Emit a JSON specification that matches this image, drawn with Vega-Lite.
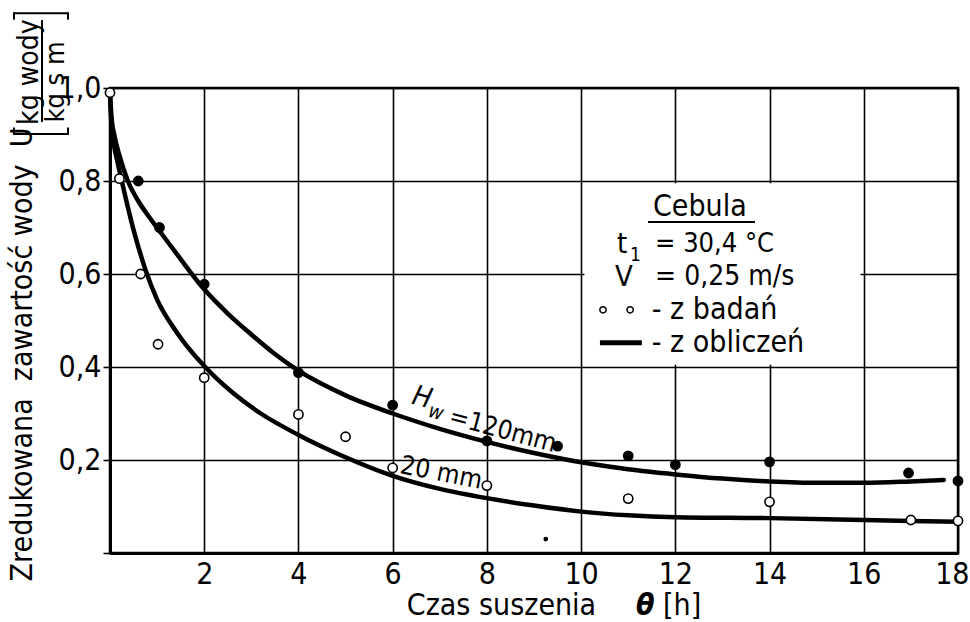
{
  "$schema": "https://vega.github.io/schema/vega-lite/v6.json",
  "width": 848,
  "height": 465,
  "autosize": {"type": "none"},
  "padding": {"left": 110, "top": 88, "right": 12, "bottom": 69},
  "background": "white",
  "datasets": {
    "obliczenia": [
      {"seria": "120 mm", "h": 0, "u": 0.99},
      {"seria": "120 mm", "h": 0.03, "u": 0.94},
      {"seria": "120 mm", "h": 0.1, "u": 0.895},
      {"seria": "120 mm", "h": 0.2, "u": 0.855},
      {"seria": "120 mm", "h": 0.38, "u": 0.8},
      {"seria": "120 mm", "h": 0.6, "u": 0.757},
      {"seria": "120 mm", "h": 0.85, "u": 0.72},
      {"seria": "120 mm", "h": 1.1, "u": 0.686},
      {"seria": "120 mm", "h": 1.44, "u": 0.64},
      {"seria": "120 mm", "h": 2.0, "u": 0.567},
      {"seria": "120 mm", "h": 2.5, "u": 0.515},
      {"seria": "120 mm", "h": 3.0, "u": 0.47},
      {"seria": "120 mm", "h": 3.5, "u": 0.428},
      {"seria": "120 mm", "h": 4.0, "u": 0.392},
      {"seria": "120 mm", "h": 5.0, "u": 0.339},
      {"seria": "120 mm", "h": 6.0, "u": 0.3},
      {"seria": "120 mm", "h": 7.0, "u": 0.267},
      {"seria": "120 mm", "h": 8.0, "u": 0.239},
      {"seria": "120 mm", "h": 9.0, "u": 0.215},
      {"seria": "120 mm", "h": 10.0, "u": 0.195},
      {"seria": "120 mm", "h": 11.0, "u": 0.18},
      {"seria": "120 mm", "h": 12.0, "u": 0.169},
      {"seria": "120 mm", "h": 13.0, "u": 0.16},
      {"seria": "120 mm", "h": 14.0, "u": 0.154},
      {"seria": "120 mm", "h": 15.0, "u": 0.151},
      {"seria": "120 mm", "h": 16.0, "u": 0.151},
      {"seria": "120 mm", "h": 17.0, "u": 0.154},
      {"seria": "120 mm", "h": 17.7, "u": 0.157},
      {"seria": "20 mm", "h": 0, "u": 0.99},
      {"seria": "20 mm", "h": 0.03, "u": 0.92},
      {"seria": "20 mm", "h": 0.08, "u": 0.88},
      {"seria": "20 mm", "h": 0.16, "u": 0.84},
      {"seria": "20 mm", "h": 0.25, "u": 0.8},
      {"seria": "20 mm", "h": 0.5, "u": 0.695},
      {"seria": "20 mm", "h": 0.75, "u": 0.61},
      {"seria": "20 mm", "h": 1.0, "u": 0.545},
      {"seria": "20 mm", "h": 1.4, "u": 0.477},
      {"seria": "20 mm", "h": 2.0, "u": 0.402},
      {"seria": "20 mm", "h": 2.6, "u": 0.345},
      {"seria": "20 mm", "h": 3.2, "u": 0.3},
      {"seria": "20 mm", "h": 4.0, "u": 0.254},
      {"seria": "20 mm", "h": 5.0, "u": 0.206},
      {"seria": "20 mm", "h": 6.0, "u": 0.166},
      {"seria": "20 mm", "h": 7.0, "u": 0.138},
      {"seria": "20 mm", "h": 8.0, "u": 0.118},
      {"seria": "20 mm", "h": 9.0, "u": 0.102},
      {"seria": "20 mm", "h": 10.0, "u": 0.089},
      {"seria": "20 mm", "h": 11.0, "u": 0.081},
      {"seria": "20 mm", "h": 12.0, "u": 0.077},
      {"seria": "20 mm", "h": 14.0, "u": 0.075},
      {"seria": "20 mm", "h": 16.0, "u": 0.071},
      {"seria": "20 mm", "h": 18.0, "u": 0.067}
    ],
    "badania": [
      {"seria": "120 mm", "h": 0.6, "u": 0.8},
      {"seria": "120 mm", "h": 1.05, "u": 0.7},
      {"seria": "120 mm", "h": 2.0, "u": 0.578},
      {"seria": "120 mm", "h": 4.0, "u": 0.388},
      {"seria": "120 mm", "h": 6.0, "u": 0.318},
      {"seria": "120 mm", "h": 8.0, "u": 0.241},
      {"seria": "120 mm", "h": 9.5, "u": 0.23},
      {"seria": "120 mm", "h": 11.0, "u": 0.209},
      {"seria": "120 mm", "h": 12.0, "u": 0.19},
      {"seria": "120 mm", "h": 14.0, "u": 0.196},
      {"seria": "120 mm", "h": 16.95, "u": 0.172},
      {"seria": "120 mm", "h": 18.0, "u": 0.155},
      {"seria": "20 mm", "h": 0.0, "u": 0.99},
      {"seria": "20 mm", "h": 0.2, "u": 0.805},
      {"seria": "20 mm", "h": 0.65, "u": 0.6},
      {"seria": "20 mm", "h": 1.02, "u": 0.449},
      {"seria": "20 mm", "h": 2.0, "u": 0.377},
      {"seria": "20 mm", "h": 4.0, "u": 0.298},
      {"seria": "20 mm", "h": 5.0, "u": 0.25},
      {"seria": "20 mm", "h": 6.0, "u": 0.183},
      {"seria": "20 mm", "h": 8.0, "u": 0.145},
      {"seria": "20 mm", "h": 11.0, "u": 0.117},
      {"seria": "20 mm", "h": 14.0, "u": 0.11},
      {"seria": "20 mm", "h": 17.0, "u": 0.071},
      {"seria": "20 mm", "h": 18.0, "u": 0.069}
    ],
    "kropka": [
      {"h": 9.25, "u": 0.03}
    ]
  },
  "layer": [
    {
      "data": {"name": "obliczenia"},
      "mark": {"type": "line", "stroke": "black", "strokeWidth": 4.5, "interpolate": "monotone", "strokeCap": "round"},
      "encoding": {
        "x": {
          "field": "h", "type": "quantitative",
          "scale": {"domain": [0, 18], "nice": false, "zero": false},
          "axis": {
            "values": [0, 2, 4, 6, 8, 10, 12, 14, 16, 18],
            "grid": true, "tickSize": 0, "labelPadding": 6,
            "labelExpr": "datum.value == 0 ? '' : datum.label",
            "labelAlign": {"condition": {"test": "datum.value == 18", "value": "right"}, "value": "center"},
            "labelOffset": {"condition": {"test": "datum.value == 18", "value": 11}, "value": 0},
            "labelFlush": false, "labelOverlap": false,
            "title": null
          }
        },
        "y": {
          "field": "u", "type": "quantitative",
          "scale": {"domain": [0, 1], "nice": false, "zero": false},
          "axis": {
            "values": [0, 0.2, 0.4, 0.6, 0.8, 1.0],
            "grid": true, "tickSize": 7, "labelPadding": 2,
            "labelExpr": "datum.value == 0 ? '' : replace(format(datum.value, '.1f'), '.', ',')",
            "labelFlush": false, "labelOverlap": false,
            "title": "Zredukowana\u00a0\u00a0zawartość wody\u00a0\u00a0U",
            "titleX": -88, "titleY": 266, "titleAngle": 270,
            "titleAlign": "center", "titleBaseline": "middle"
          }
        },
        "detail": {"field": "seria"}
      }
    },
    {
      "data": {"values": [{}]},
      "mark": {"type": "rect", "fill": "white", "stroke": null},
      "encoding": {
        "x": {"datum": 10.07}, "x2": {"datum": 15.93},
        "y": {"datum": 0.405}, "y2": {"datum": 0.795}
      }
    },
    {
      "data": {"name": "badania"},
      "mark": {"type": "point", "shape": "circle", "size": 85, "stroke": "black", "strokeWidth": 1.6, "opacity": 1},
      "encoding": {
        "x": {"field": "h", "type": "quantitative"},
        "y": {"field": "u", "type": "quantitative"},
        "fill": {
          "field": "seria", "type": "nominal",
          "scale": {"domain": ["120 mm", "20 mm"], "range": ["black", "white"]},
          "legend": null
        }
      }
    },
    {
      "data": {"name": "kropka"},
      "mark": {"type": "point", "shape": "circle", "size": 22, "filled": true, "color": "black", "opacity": 1},
      "encoding": {
        "x": {"field": "h", "type": "quantitative"},
        "y": {"field": "u", "type": "quantitative"}
      }
    },
    {
      "data": {"values": [{}]},
      "mark": {"type": "text", "text": "Cebula", "fontSize": 30, "align": "center", "baseline": "middle"},
      "encoding": {"x": {"datum": 12.52}, "y": {"datum": 0.744}}
    },
    {
      "data": {"values": [{}]},
      "mark": {"type": "rule", "stroke": "black", "strokeWidth": 2},
      "encoding": {"x": {"datum": 11.42}, "x2": {"datum": 13.69}, "y": {"datum": 0.712}}
    },
    {
      "data": {"values": [{}]},
      "mark": {"type": "text", "text": "t", "fontSize": 29, "align": "left", "baseline": "middle"},
      "encoding": {"x": {"datum": 10.76}, "y": {"datum": 0.664}}
    },
    {
      "data": {"values": [{}]},
      "mark": {"type": "text", "text": "1", "fontSize": 19, "align": "left", "baseline": "middle"},
      "encoding": {"x": {"datum": 11.04}, "y": {"datum": 0.64}}
    },
    {
      "data": {"values": [{}]},
      "mark": {"type": "text", "text": "= 30,4 °C", "fontSize": 27, "align": "left", "baseline": "middle"},
      "encoding": {"x": {"datum": 11.57}, "y": {"datum": 0.664}}
    },
    {
      "data": {"values": [{}]},
      "mark": {"type": "text", "text": "V", "fontSize": 29, "align": "left", "baseline": "middle"},
      "encoding": {"x": {"datum": 10.72}, "y": {"datum": 0.594}}
    },
    {
      "data": {"values": [{}]},
      "mark": {"type": "text", "text": "= 0,25 m/s", "fontSize": 28, "align": "left", "baseline": "middle"},
      "encoding": {"x": {"datum": 11.57}, "y": {"datum": 0.594}}
    },
    {
      "data": {"values": [{}]},
      "mark": {"type": "point", "shape": "circle", "size": 40, "fill": "white", "stroke": "black", "strokeWidth": 1.5, "opacity": 1},
      "encoding": {"x": {"datum": 10.465}, "y": {"datum": 0.523}}
    },
    {
      "data": {"values": [{}]},
      "mark": {"type": "point", "shape": "circle", "size": 40, "fill": "white", "stroke": "black", "strokeWidth": 1.5, "opacity": 1},
      "encoding": {"x": {"datum": 11.04}, "y": {"datum": 0.523}}
    },
    {
      "data": {"values": [{}]},
      "mark": {"type": "text", "text": "- z badań", "fontSize": 30, "align": "left", "baseline": "middle"},
      "encoding": {"x": {"datum": 11.5}, "y": {"datum": 0.523}}
    },
    {
      "data": {"values": [{}]},
      "mark": {"type": "rule", "stroke": "black", "strokeWidth": 5},
      "encoding": {"x": {"datum": 10.4}, "x2": {"datum": 11.29}, "y": {"datum": 0.452}}
    },
    {
      "data": {"values": [{}]},
      "mark": {"type": "text", "text": "- z obliczeń", "fontSize": 30, "align": "left", "baseline": "middle"},
      "encoding": {"x": {"datum": 11.5}, "y": {"datum": 0.452}}
    },
    {
      "data": {"values": [{}]},
      "mark": {"type": "text", "text": "H", "fontSize": 28, "fontStyle": "italic", "align": "center", "baseline": "middle", "angle": 15},
      "encoding": {"x": {"datum": 6.62}, "y": {"datum": 0.333}}
    },
    {
      "data": {"values": [{}]},
      "mark": {"type": "text", "text": "w", "fontSize": 20, "fontStyle": "italic", "align": "center", "baseline": "middle", "angle": 15},
      "encoding": {"x": {"datum": 6.92}, "y": {"datum": 0.302}}
    },
    {
      "data": {"values": [{}]},
      "mark": {"type": "text", "text": "=120mm", "fontSize": 26, "align": "center", "baseline": "middle", "angle": 15},
      "encoding": {"x": {"datum": 8.34}, "y": {"datum": 0.264}}
    },
    {
      "data": {"values": [{}]},
      "mark": {"type": "text", "text": "20 mm", "fontSize": 26, "align": "center", "baseline": "middle", "angle": 11},
      "encoding": {"x": {"datum": 7.03}, "y": {"datum": 0.172}}
    },
    {
      "data": {"values": [{}]},
      "mark": {"type": "text", "text": "Czas suszenia", "fontSize": 30, "align": "left", "baseline": "middle"},
      "encoding": {"x": {"datum": 6.3}, "y": {"datum": -0.115}}
    },
    {
      "data": {"values": [{}]},
      "mark": {"type": "text", "text": "θ", "fontSize": 30, "fontWeight": "bold", "fontStyle": "italic", "align": "center", "baseline": "middle"},
      "encoding": {"x": {"datum": 11.36}, "y": {"datum": -0.115}}
    },
    {
      "data": {"values": [{}]},
      "mark": {"type": "text", "text": "[h]", "fontSize": 30, "align": "left", "baseline": "middle"},
      "encoding": {"x": {"datum": 11.74}, "y": {"datum": -0.115}}
    },
    {
      "data": {"values": [{}]},
      "mark": {"type": "text", "text": "kg wody", "fontSize": 28, "align": "center", "baseline": "middle", "angle": 270},
      "encoding": {"x": {"datum": -1.7}, "y": {"datum": 1.034}}
    },
    {
      "data": {"values": [{}]},
      "mark": {"type": "text", "text": "kg s m", "fontSize": 27, "align": "center", "baseline": "middle", "angle": 270},
      "encoding": {"x": {"datum": -1.146}, "y": {"datum": 1.013}}
    },
    {
      "data": {"values": [{}]},
      "mark": {"type": "rule", "stroke": "black", "strokeWidth": 2},
      "encoding": {"x": {"datum": -1.443}, "y": {"datum": 1.146}, "y2": {"datum": 0.927}}
    },
    {
      "data": {"values": [{}]},
      "mark": {"type": "rule", "stroke": "black", "strokeWidth": 2},
      "encoding": {"x": {"datum": -2.038}, "x2": {"datum": -0.892}, "y": {"datum": 1.161}}
    },
    {
      "data": {"values": [{}]},
      "mark": {"type": "rule", "stroke": "black", "strokeWidth": 2},
      "encoding": {"x": {"datum": -2.038}, "y": {"datum": 1.163}, "y2": {"datum": 1.147}}
    },
    {
      "data": {"values": [{}]},
      "mark": {"type": "rule", "stroke": "black", "strokeWidth": 2},
      "encoding": {"x": {"datum": -0.892}, "y": {"datum": 1.163}, "y2": {"datum": 1.147}}
    },
    {
      "data": {"values": [{}]},
      "mark": {"type": "rule", "stroke": "black", "strokeWidth": 2},
      "encoding": {"x": {"datum": -2.038}, "x2": {"datum": -0.892}, "y": {"datum": 0.901}}
    },
    {
      "data": {"values": [{}]},
      "mark": {"type": "rule", "stroke": "black", "strokeWidth": 2},
      "encoding": {"x": {"datum": -2.038}, "y": {"datum": 0.899}, "y2": {"datum": 0.915}}
    },
    {
      "data": {"values": [{}]},
      "mark": {"type": "rule", "stroke": "black", "strokeWidth": 2},
      "encoding": {"x": {"datum": -0.892}, "y": {"datum": 0.899}, "y2": {"datum": 0.915}}
    }
  ],
  "config": {
    "view": {"stroke": "black", "strokeWidth": 2.5},
    "axis": {
      "gridColor": "black", "gridWidth": 1.6, "gridOpacity": 1,
      "domainColor": "black", "domainWidth": 3,
      "tickColor": "black", "tickWidth": 1.6,
      "labelColor": "black", "labelFont": "DejaVu Sans Condensed, DejaVu Sans, sans-serif", "labelFontSize": 30,
      "titleColor": "black", "titleFont": "DejaVu Sans Condensed, DejaVu Sans, sans-serif", "titleFontSize": 30, "titleFontWeight": "normal"
    },
    "text": {"font": "DejaVu Sans Condensed, DejaVu Sans, sans-serif", "fontSize": 28, "color": "black"}
  }
}
